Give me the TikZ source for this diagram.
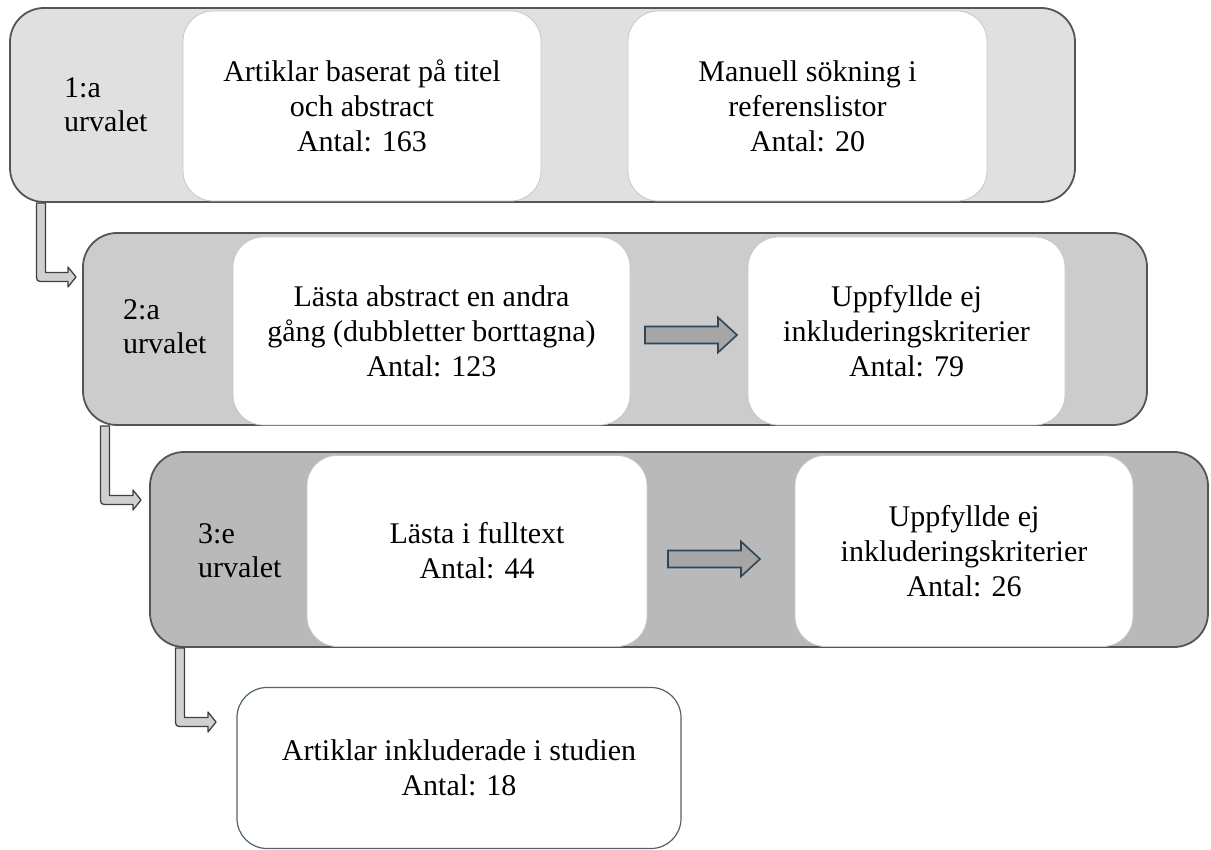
\documentclass[tikz,border=0pt]{standalone}
\usepackage{fontspec}
\setmainfont{Liberation Serif}
\definecolor{bandA}{HTML}{E0E0E0}
\definecolor{bandB}{HTML}{CCCCCC}
\definecolor{bandC}{HTML}{B9B9B9}
\definecolor{bandline}{HTML}{555555}
\definecolor{arrfill}{HTML}{D0D0D0}
\definecolor{arrline}{HTML}{404040}
\definecolor{blkfill}{HTML}{A6A6A6}
\definecolor{slate}{HTML}{2E4657}
\definecolor{finline}{HTML}{51626E}
\newcommand{\bentarr}[4]{% cx, ytop, ybend, xtip
  \draw[bentarrow] ({#1-4.5},#2) -- ({#1-4.5},{#3+4.5-8})
    .. controls ({#1-4.5},{#3+4.5}) .. ({#1-4.5+8},{#3+4.5})
    -- ({#4-8},{#3+4.5}) -- ({#4-8},{#3+10}) -- (#4,#3) -- ({#4-8},{#3-10})
    -- ({#4-8},{#3-4.5}) -- ({#1+4.5},{#3-4.5}) -- ({#1+4.5},#2) -- cycle;}
\newcommand{\blockarr}[3]{% x0, yc, xtip
  \draw[blockarrow] (#1,{#2-8.5}) -- ({#3-19},{#2-8.5}) -- ({#3-19},{#2-17.5})
    -- (#3,#2) -- ({#3-19},{#2+17.5}) -- ({#3-19},{#2+8.5}) -- (#1,{#2+8.5}) -- cycle;}
\begin{document}
\begin{tikzpicture}[x=1pt,y=-1pt,
  band/.style={draw=bandline, line width=1.8pt, rounded corners=34pt, inner sep=0pt},
  wbox/.style={fill=white, draw=black!22, line width=0.8pt, rounded corners=30pt, inner sep=0pt, align=center, font=\fontsize{30}{35}\selectfont},
  lbl/.style={align=left, anchor=west, inner sep=0pt, font=\fontsize{30}{34}\selectfont},
  bentarrow/.style={fill=arrfill, draw=arrline, line width=1.3pt, line join=round},
  blockarrow/.style={fill=blkfill, draw=slate, line width=1.6pt, line join=miter},
]
\useasboundingbox (0,0) rectangle (1211,850);

% band 1
\node[band, fill=bandA, minimum width=1065pt, minimum height=194pt] (b1) at (542.5,105) {};
\node[wbox, minimum width=358pt, minimum height=190pt] (a1) at (362,106) {Artiklar baserat på titel\\och abstract\\Antal: 163};
\node[wbox, minimum width=359pt, minimum height=190pt] (a2) at (807.5,106) {Manuell sökning i\\referenslistor\\Antal: 20};
\node[lbl] (l1) at (64,105) {1:a\\urvalet};

% band 2
\node[band, fill=bandB, minimum width=1064pt, minimum height=192pt] (b2) at (615,329) {};
\node[wbox, minimum width=397pt, minimum height=188pt] (a3) at (431.5,331) {Lästa abstract en andra\\gång (dubbletter borttagna)\\Antal: 123};
\node[wbox, minimum width=317pt, minimum height=188pt] (a4) at (906.5,331) {Uppfyllde ej\\inkluderingskriterier\\Antal: 79};
\node[lbl] (l2) at (123,327) {2:a\\urvalet};

% band 3
\node[band, fill=bandC, minimum width=1058pt, minimum height=195pt] (b3) at (679,549.5) {};
\node[wbox, minimum width=340pt, minimum height=191pt] (a5) at (477,551) {Lästa i fulltext\\Antal: 44};
\node[wbox, minimum width=338pt, minimum height=191pt] (a6) at (964,551) {Uppfyllde ej\\inkluderingskriterier\\Antal: 26};
\node[lbl] (l3) at (198,551) {3:e\\urvalet};

% final box
\node[wbox, draw=finline, line width=1.2pt, minimum width=444pt, minimum height=161pt] (fin) at (459,768) {Artiklar inkluderade i studien\\Antal: 18};

% horizontal arrows
\blockarr{645}{335}{737}
\blockarr{668}{559}{760}

% bent arrows between bands
\bentarr{41}{203}{277}{76}
\bentarr{105}{426}{500}{141}
\bentarr{180}{648}{722}{216}
\end{tikzpicture}
\end{document}
